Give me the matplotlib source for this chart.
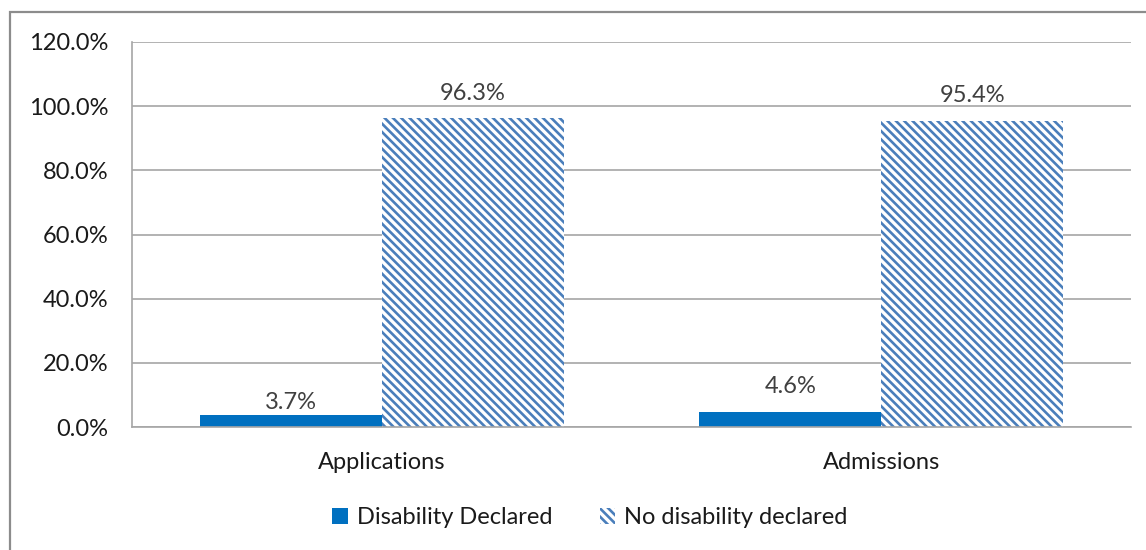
import matplotlib
matplotlib.use("Agg")
import matplotlib.pyplot as plt
from matplotlib.patches import Rectangle, Patch
import numpy as np

categories = ["Applications", "Admissions"]
disability_declared = [3.7, 4.6]
no_disability_declared = [96.3, 95.4]
series_names = ["Disability Declared", "No disability declared"]
y_ticks = [0, 20, 40, 60, 80, 100, 120]

plt.rcParams['font.family'] = ['Lato', 'DejaVu Sans']
plt.rcParams['hatch.linewidth'] = 1.9
plt.rcParams['hatch.color'] = '#4A7EBB'

FS = 17
W, H = 1146, 550
fig = plt.figure(figsize=(W/100, H/100), dpi=100)
ax = fig.add_axes([132/W, 1-427/H, (1131-132)/W, (427-42)/H])

# outer frame
fig.patches.append(Rectangle((10/W, -0.05), 1.2, 1-12/H+0.05, transform=fig.transFigure,
                             fill=False, edgecolor='#8C8C8C', linewidth=1.6))

HATCH = '\\' * 4
x = np.arange(len(categories))
bw = 0.364
b1 = ax.bar(x - bw/2, disability_declared, bw, color='#0070C0', linewidth=0)
b2 = ax.bar(x + bw/2, no_disability_declared, bw, color='white', edgecolor='#4A7EBB',
            hatch=HATCH, linewidth=0)

# label offsets above bar tops (in pixels), as placed in the original
label_px = [[13, 26], [25, 25]]
for si, (rects, vals) in enumerate(((b1, disability_declared), (b2, no_disability_declared))):
    for ci, (r, v) in enumerate(zip(rects, vals)):
        ax.annotate(f"{v:.1f}%", (r.get_x() + r.get_width()/2, v),
                    xytext=(0, label_px[si][ci] * 0.72), textcoords='offset points',
                    ha='center', va='center', fontsize=FS, color='#404040')

ax.set_xlim(-0.5, 1.5)
ax.set_ylim(0, 120)
ax.set_yticks(y_ticks)
ax.set_yticklabels([f"{t:.1f}%" for t in y_ticks], fontsize=FS, color='#1a1a1a')
ax.set_xticks(x)
ax.set_xticklabels(categories, fontsize=FS, color='#1a1a1a')
ax.tick_params(axis='y', length=0, pad=17)
ax.tick_params(axis='x', length=0, pad=18)
ax.grid(axis='y', color='#A6A6A6', linewidth=1.2)
ax.set_axisbelow(True)
for s in ('top', 'right'):
    ax.spines[s].set_visible(False)
ax.spines['left'].set_color('#A6A6A6')
ax.spines['bottom'].set_color('#A6A6A6')
ax.spines['left'].set_linewidth(1.2)
ax.spines['bottom'].set_linewidth(1.2)

handles = [Patch(facecolor='#0070C0', linewidth=0),
           Patch(facecolor='white', edgecolor='#4A7EBB', hatch=HATCH, linewidth=0)]
fig.legend(handles, series_names, loc='center', bbox_to_anchor=(590/W, 1-518/H), ncol=2,
           frameon=False, fontsize=FS, handlelength=0.65, handleheight=0.65,
           handletextpad=0.4, columnspacing=2.0, labelcolor='#1a1a1a')

fig.savefig("out.png", dpi=100)
